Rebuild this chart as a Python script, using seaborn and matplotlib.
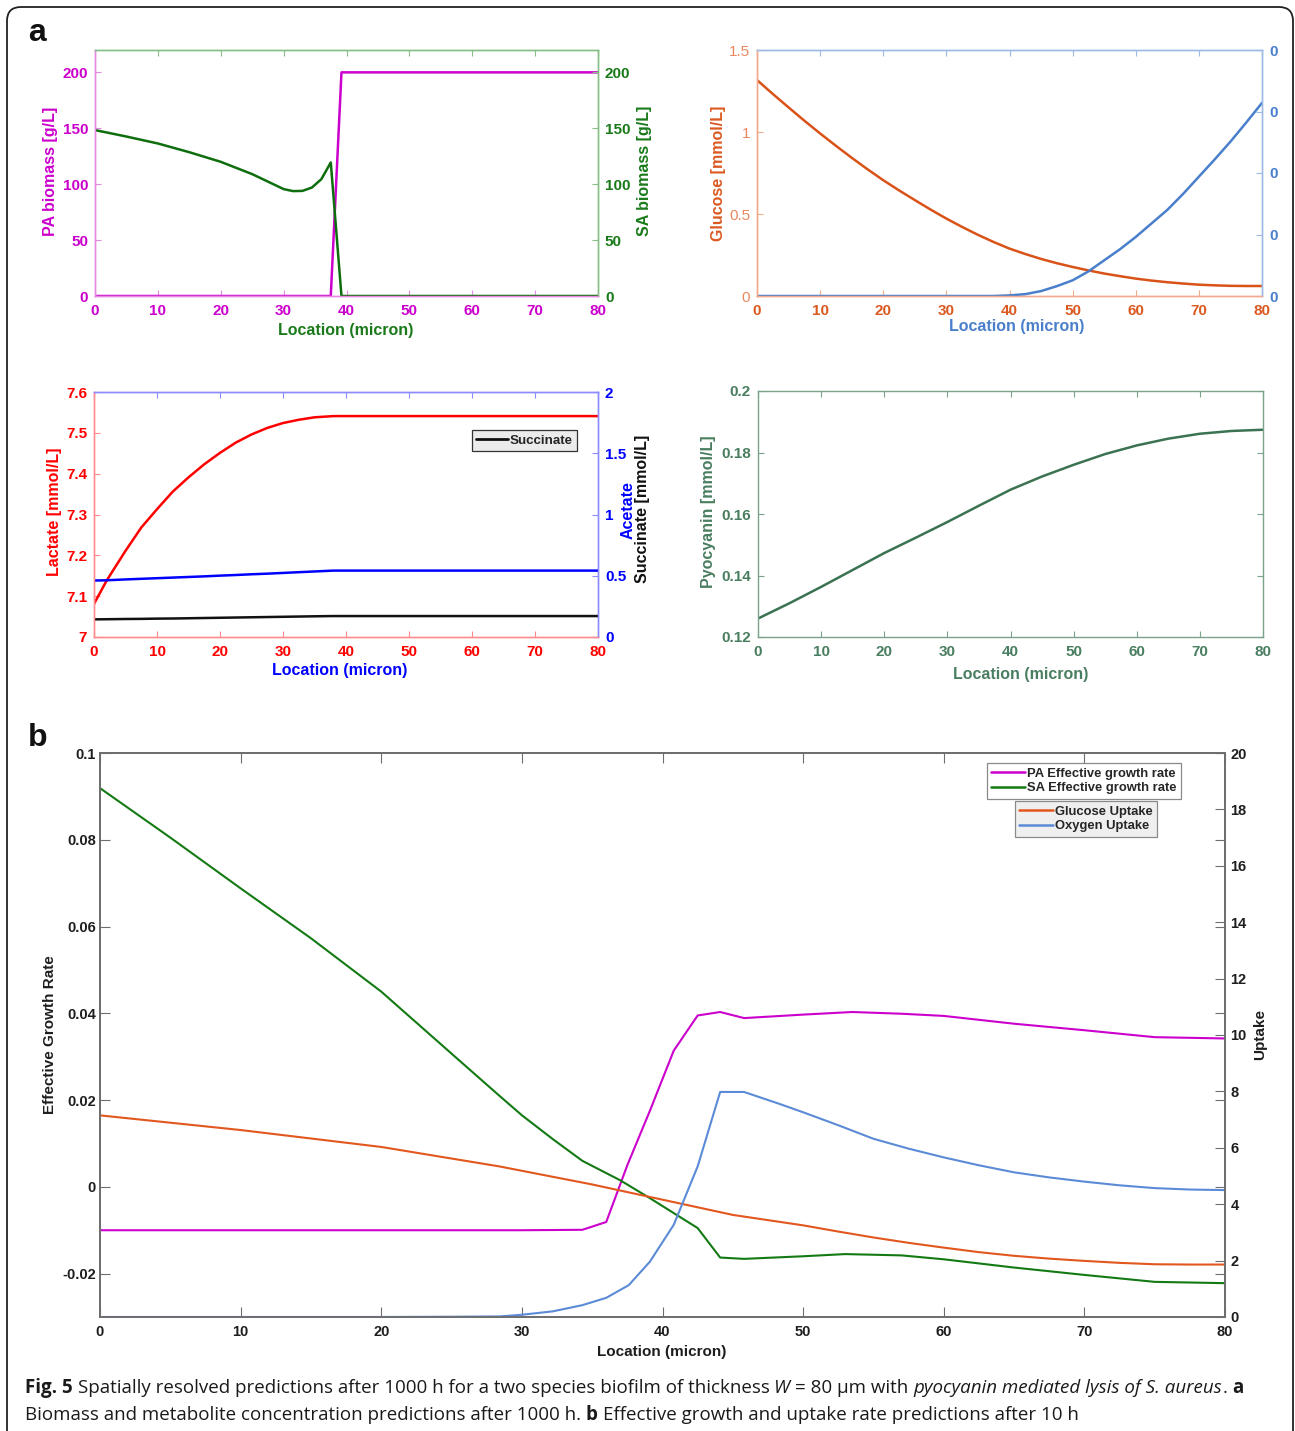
import matplotlib
matplotlib.use("Agg")
import numpy as np
import pandas as pd
import seaborn as sns
import matplotlib.pyplot as plt
from matplotlib.patches import FancyBboxPatch
from matplotlib.lines import Line2D
from matplotlib import font_manager

# ---------------- data ----------------
# Panel a, top-left: biomass
loc_tl = [0, 5, 10, 15, 20, 25, 27.5, 30, 31.5, 33, 34.5, 36, 37.5, 39.2, 45, 50, 60, 70, 80]
pa_biomass = [0, 0, 0, 0, 0, 0, 0, 0, 0, 0, 0, 0, 0, 200, 200, 200, 200, 200, 200]
sa_biomass = [148.4, 142.6, 136.4, 128.6, 120.0, 109.0, 102.3, 95.6, 93.8, 94.0, 97.0, 104.5,
              119.4, 0, 0, 0, 0, 0, 0]
tl_ticks = [0, 50, 100, 150, 200]

# Panel a, top-right: glucose / oxygen
loc_tr = [0, 2.5, 5, 7.5, 10, 12.5, 15, 17.5, 20, 22.5, 25, 27.5, 30, 32.5, 35, 37.5, 40,
          42.5, 45, 47.5, 50, 52.5, 55, 57.5, 60, 62.5, 65, 67.5, 70, 72.5, 75, 77.5, 80]
glucose = [1.317, 1.232, 1.150, 1.069, 0.991, 0.916, 0.843, 0.773, 0.706, 0.644, 0.585,
           0.527, 0.472, 0.421, 0.373, 0.329, 0.289, 0.256, 0.226, 0.200, 0.177, 0.156,
           0.137, 0.121, 0.106, 0.094, 0.084, 0.076, 0.069, 0.065, 0.062, 0.061, 0.061]
oxygen = [0, 0, 0, 0, 0, 0, 0, 0, 0, 0, 0, 0, 0, 0, 0, 0, 0.00001,
          0.00003, 0.00008, 0.00016, 0.000255, 0.00040, 0.00058, 0.00076, 0.00096, 0.00118,
          0.00140, 0.00166, 0.00194, 0.00222, 0.00251, 0.00282, 0.00314]
tr_left_ticks = [0, 0.5, 1, 1.5]
tr_left_labels = ["0", "0.5", "1", "1.5"]
tr_right_ticks = [0, 0.001, 0.002, 0.003, 0.004]
tr_right_labels = ["0", "0", "0", "0", "0"]

# Panel a, middle-left: lactate / acetate / succinate
loc_ml = [0, 2, 5, 7.5, 10, 12.5, 15, 17.5, 20, 22.5, 25, 27.5, 30, 32.5, 35, 38, 40, 50,
          60, 70, 80]
lactate = [7.081, 7.138, 7.211, 7.268, 7.313, 7.356, 7.391, 7.423, 7.451, 7.476, 7.496,
           7.512, 7.524, 7.532, 7.538, 7.541, 7.541, 7.541, 7.541, 7.541, 7.541]
acetate = [0.461, 0.463, 0.470, 0.475, 0.480, 0.485, 0.490, 0.495, 0.501, 0.506, 0.512,
           0.517, 0.523, 0.529, 0.535, 0.542, 0.542, 0.542, 0.542, 0.542, 0.542]
succinate = [0.144, 0.145, 0.147, 0.148, 0.150, 0.151, 0.153, 0.155, 0.157, 0.159, 0.161,
             0.163, 0.165, 0.167, 0.169, 0.171, 0.171, 0.171, 0.171, 0.171, 0.171]
ml_left_ticks = [7, 7.1, 7.2, 7.3, 7.4, 7.5, 7.6]
ml_left_labels = ["7", "7.1", "7.2", "7.3", "7.4", "7.5", "7.6"]
ml_right_ticks = [0, 0.5, 1, 1.5, 2]
ml_right_labels = ["0", "0.5", "1", "1.5", "2"]

# Panel a, middle-right: pyocyanin
loc_mr = [0, 5, 10, 15, 20, 25, 30, 35, 40, 45, 50, 55, 60, 65, 70, 75, 80]
pyocyanin = [0.1260, 0.1310, 0.1363, 0.1418, 0.1473, 0.1523, 0.1574, 0.1627, 0.1679,
             0.1722, 0.1760, 0.1795, 0.1823, 0.1845, 0.1861, 0.1870, 0.1874]
mr_ticks = [0.12, 0.14, 0.16, 0.18, 0.2]
mr_labels = ["0.12", "0.14", "0.16", "0.18", "0.2"]

# Panel b: effective growth rates (left axis) and uptakes (right axis)
loc_pa = [0, 10, 20, 30, 34.3, 36, 37.5, 39.1, 40.8, 42.5, 44.1, 45.8, 50, 53.5, 57, 60,
          65, 70, 75, 80]
pa_rate = [-0.0100, -0.0100, -0.0100, -0.0100, -0.0099, -0.0081, 0.0050, 0.0175, 0.0314,
           0.0395, 0.0403, 0.0389, 0.0397, 0.0403, 0.0399, 0.0394, 0.0376, 0.0361, 0.0345,
           0.0342]
loc_sa = [0, 5, 10, 15, 20, 25, 28.4, 30, 32.2, 34.3, 37, 39.1, 42.5, 44.1, 45.8, 50, 53,
          57, 60, 65, 70, 75, 80]
sa_rate = [0.0919, 0.0805, 0.0688, 0.0573, 0.0450, 0.0307, 0.0210, 0.0165, 0.0110, 0.0060,
           0.0015, -0.0026, -0.0095, -0.0163, -0.0166, -0.0160, -0.0155, -0.0158, -0.0167,
           -0.0186, -0.0203, -0.0219, -0.0222]
loc_gl = [0, 10, 20, 28.4, 35, 40, 45, 50, 52.5, 55, 57.5, 60, 62.5, 65, 67.5, 70, 72.5,
          75, 77.5, 80]
glucose_uptake = [7.15, 6.63, 6.03, 5.34, 4.70, 4.16, 3.62, 3.25, 3.03, 2.82, 2.63, 2.46,
                  2.30, 2.17, 2.07, 1.99, 1.92, 1.87, 1.86, 1.86]
loc_ox = [0, 20, 25, 28.4, 30, 32.2, 34.3, 36, 37.6, 39.1, 40.8, 42.5, 44.1, 45.8, 48.3,
          50, 52.5, 55, 57.5, 60, 62.5, 65, 67.5, 70, 72.5, 75, 77.5, 80]
oxygen_uptake = [0, 0, 0.01, 0.02, 0.08, 0.20, 0.42, 0.68, 1.13, 1.96, 3.27, 5.34, 7.98,
                 7.98, 7.56, 7.26, 6.80, 6.32, 5.97, 5.66, 5.38, 5.13, 4.95, 4.80, 4.67,
                 4.57, 4.52, 4.50]
b_left_ticks = [-0.02, 0, 0.02, 0.04, 0.06, 0.08, 0.1]
b_left_labels = ["-0.02", "0", "0.02", "0.04", "0.06", "0.08", "0.1"]
b_right_ticks = [0, 2, 4, 6, 8, 10, 12, 14, 16, 18, 20]
x_ticks = [0, 10, 20, 30, 40, 50, 60, 70, 80]

# ---------------- style ----------------
sns.set_style("white")
plt.rcParams["font.family"] = ["Liberation Sans", "DejaVu Sans"]
plt.rcParams["font.weight"] = "bold"
plt.rcParams["axes.labelweight"] = "bold"
plt.rcParams["axes.linewidth"] = 1.0

W, H = 1295, 1431
fig = plt.figure(figsize=(W / 100, H / 100), dpi=100)
fig.patch.set_facecolor("white")

bg = fig.add_axes([0, 0, 1, 1])
bg.set_xlim(0, W)
bg.set_ylim(H, 0)
bg.axis("off")
bg.add_patch(FancyBboxPatch((7, 7), 1286, 1460, boxstyle="round,pad=0,rounding_size=14",
                            fill=False, lw=1.3, ec="#222222"))


def axbox(x0, y0, x1, y1):
    return [x0 / W, 1 - y1 / H, (x1 - x0) / W, (y1 - y0) / H]


def pax(box, px, py):
    x0, y0, x1, y1 = box
    return (px - x0) / (x1 - x0), (y1 - py) / (y1 - y0)


def spines(ax, left, right, top, bottom):
    ax.spines["left"].set_color(left)
    ax.spines["right"].set_color(right)
    ax.spines["top"].set_color(top)
    ax.spines["bottom"].set_color(bottom)
    for s in ax.spines.values():
        s.set_linewidth(1.0)
        s.set_visible(True)


def line(ax, x, y, color, lw):
    sns.lineplot(x=x, y=y, ax=ax, color=color, linewidth=lw, sort=False,
                 errorbar=None, legend=False)


def xlab(ax, box, text, px, py, color, size):
    ax.set_xlabel(text, color=color, fontsize=size, fontweight="bold")
    ax.xaxis.set_label_coords(*pax(box, px, py))
    ax.xaxis.label.set_va("center")


def ylab(ax, box, text, px, py, color, size):
    ax.set_ylabel(text, color=color, fontsize=size, fontweight="bold")
    ax.yaxis.set_label_coords(*pax(box, px, py))
    ax.yaxis.label.set_va("center")
    ax.yaxis.label.set_ha("center")


TS = 11     # tick label size panel a
LS = 11.5   # axis label size panel a
TL = 4.5    # tick length panel a

# ---------- Panel a, top-left ----------
MAG = "#CC00CC"; MAG_SP = "#E48AE4"
GRN = "#0E6E0E"; GRN_T = "#1A7A1A"; GRN_SP = "#86BF86"
box = (95, 50, 598, 296)
ax = fig.add_axes(axbox(*box))
ax2 = ax.twinx()
line(ax, loc_tl, pa_biomass, MAG, 1.8)
line(ax2, loc_tl, sa_biomass, GRN, 1.8)
for a in (ax, ax2):
    a.set_xlim(0, 80)
    a.set_ylim(0, 220)
    a.set_yticks(tl_ticks)
    a.set_yticklabels([str(v) for v in tl_ticks])
    a.set_xticks(x_ticks)
ax.set_xticklabels([str(v) for v in x_ticks])
ax.tick_params(axis="x", direction="in", length=TL, color=MAG_SP, labelcolor=MAG,
               labelsize=TS, pad=6, bottom=True, top=False)
ax.tick_params(axis="y", direction="in", length=TL, color=MAG_SP, labelcolor=MAG,
               labelsize=TS, pad=5, left=True, right=False)
ax2.tick_params(axis="y", direction="in", length=TL, color=GRN_SP, labelcolor=GRN_T,
                labelsize=TS, pad=5, right=True, left=False)
ax2.xaxis.set_visible(True)
ax2.tick_params(axis="x", direction="in", length=TL, color=GRN_SP, bottom=False, top=True,
                labelbottom=False, labeltop=False)
for a in (ax, ax2):
    spines(a, MAG_SP, GRN_SP, GRN_SP, MAG_SP)
xlab(ax, box, "Location (micron)", 346, 331, GRN_T, LS)
ylab(ax, box, "PA biomass [g/L]", 50, 171, MAG, LS)
ylab(ax2, box, "SA biomass [g/L]", 645, 171, GRN_T, LS)

# ---------- Panel a, top-right ----------
ORG = "#D95319"; ORG_T = "#DB5A22"; ORG_L = "#E8875F"; ORG_SP = "#F2AA8C"
BLU = "#4A7FCB"; BLU_SP = "#9DBAE6"
box = (757, 50, 1262, 296)
ax = fig.add_axes(axbox(*box))
ax2 = ax.twinx()
line(ax, loc_tr, glucose, ORG, 1.8)
line(ax2, loc_tr, oxygen, BLU, 1.8)
ax.set_xlim(0, 80)
ax.set_ylim(0, 1.5)
ax.set_yticks(tr_left_ticks)
ax.set_yticklabels(tr_left_labels, fontweight="normal")
ax.set_xticks(x_ticks)
ax.set_xticklabels([str(v) for v in x_ticks])
ax2.set_ylim(0, 0.004)
ax2.set_yticks(tr_right_ticks)
ax2.set_yticklabels(tr_right_labels)
ax.tick_params(axis="x", direction="in", length=TL, color=ORG_SP, labelcolor=ORG_T,
               labelsize=TS, pad=6, bottom=True, top=False)
ax.tick_params(axis="y", direction="in", length=TL, color=ORG_SP, labelcolor=ORG_L,
               labelsize=TS, pad=5, left=True, right=False)
ax2.tick_params(axis="y", direction="in", length=TL, color=BLU_SP, labelcolor=BLU,
                labelsize=TS, pad=5, right=True, left=False)
ax2.xaxis.set_visible(True)
ax2.tick_params(axis="x", direction="in", length=TL, color=BLU_SP, bottom=False, top=True,
                labelbottom=False, labeltop=False)
for a in (ax, ax2):
    spines(a, ORG_SP, BLU_SP, BLU_SP, ORG_SP)
xlab(ax, box, "Location (micron)", 1017, 327, BLU, LS)
ylab(ax, box, "Glucose [mmol/L]", 718, 173, ORG_T, LS)

# ---------- Panel a, middle-left ----------
RED = "#FF0000"; RED_SP = "#FF8C8C"
BLUE = "#0000FF"; BLUE_SP = "#8C8CFF"
box = (94, 392, 598, 637)
ax = fig.add_axes(axbox(*box))
ax2 = ax.twinx()
line(ax, loc_ml, lactate, RED, 1.8)
line(ax2, loc_ml, acetate, BLUE, 1.8)
line(ax2, loc_ml, succinate, "#111111", 1.8)
ax.set_xlim(0, 80)
ax.set_ylim(7, 7.6)
ax.set_yticks(ml_left_ticks)
ax.set_yticklabels(ml_left_labels)
ax.set_xticks(x_ticks)
ax.set_xticklabels([str(v) for v in x_ticks])
ax2.set_ylim(0, 2)
ax2.set_yticks(ml_right_ticks)
ax2.set_yticklabels(ml_right_labels)
ax.tick_params(axis="x", direction="in", length=TL, color=RED_SP, labelcolor=RED,
               labelsize=TS, pad=6, bottom=True, top=False)
ax.tick_params(axis="y", direction="in", length=TL, color=RED_SP, labelcolor=RED,
               labelsize=TS, pad=5, left=True, right=False)
ax2.tick_params(axis="y", direction="in", length=TL, color=BLUE_SP, labelcolor=BLUE,
                labelsize=TS, pad=5, right=True, left=False)
ax2.xaxis.set_visible(True)
ax2.tick_params(axis="x", direction="in", length=TL, color=BLUE_SP, bottom=False, top=True,
                labelbottom=False, labeltop=False)
for a in (ax, ax2):
    spines(a, RED_SP, BLUE_SP, BLUE_SP, RED_SP)
xlab(ax, box, "Location (micron)", 340, 670, BLUE, LS)
ylab(ax, box, "Lactate [mmol/L]", 55, 512, RED, LS)
bg.text(628, 510, "Acetate", rotation=90, color=BLUE, fontsize=LS, fontweight="bold",
        ha="center", va="center")
bg.text(643, 509, "Succinate [mmol/L]", rotation=90, color="#111111", fontsize=LS,
        fontweight="bold", ha="center", va="center")
leg = ax2.legend(handles=[Line2D([], [], color="#111111", lw=2.0)], labels=["Succinate"],
                 loc="center", bbox_to_anchor=pax(box, 524.5, 440.5), fontsize=9.6,
                 frameon=True, fancybox=False, framealpha=1, borderpad=0.35,
                 handlelength=2.4, handletextpad=0.1, borderaxespad=0)
leg.get_frame().set_facecolor("#EBEBEB")
leg.get_frame().set_edgecolor("#333333")
leg.get_frame().set_linewidth(0.9)

# ---------- Panel a, middle-right ----------
PYO = "#3B7352"; PYO_T = "#4A7E60"; PYO_SP = "#7AA38A"
box = (758, 391, 1263, 637)
ax = fig.add_axes(axbox(*box))
line(ax, loc_mr, pyocyanin, PYO, 1.8)
ax.set_xlim(0, 80)
ax.set_ylim(0.12, 0.2)
ax.set_yticks(mr_ticks)
ax.set_yticklabels(mr_labels)
ax.set_xticks(x_ticks)
ax.set_xticklabels([str(v) for v in x_ticks])
ax.tick_params(axis="both", direction="in", length=TL, color=PYO_SP, labelcolor=PYO_T,
               labelsize=TS, bottom=True, top=True, left=True, right=True)
ax.tick_params(axis="x", pad=6)
ax.tick_params(axis="y", pad=5)
spines(ax, PYO_SP, PYO_SP, PYO_SP, PYO_SP)
xlab(ax, box, "Location (micron)", 1021, 674, PYO_T, LS)
ylab(ax, box, "Pyocyanin [mmol/L]", 709, 512, PYO_T, LS)

# ---------- Panel b ----------
B_MAG = "#CC00CC"; B_GRN = "#137A13"; B_ORG = "#E2571E"; B_BLU = "#5B8BD6"
B_SP = "#6E6E6E"; B_T = "#1E1E1E"
box = (100, 753, 1225, 1317)
ax = fig.add_axes(axbox(*box))
ax2 = ax.twinx()
line(ax, loc_pa, pa_rate, B_MAG, 1.5)
line(ax, loc_sa, sa_rate, B_GRN, 1.5)
line(ax2, loc_gl, glucose_uptake, B_ORG, 1.5)
line(ax2, loc_ox, oxygen_uptake, B_BLU, 1.5)
ax.set_xlim(0, 80)
ax.set_ylim(-0.03, 0.1)
ax.set_yticks(b_left_ticks)
ax.set_yticklabels(b_left_labels)
ax.set_xticks(x_ticks)
ax.set_xticklabels([str(v) for v in x_ticks])
ax2.set_ylim(0, 20)
ax2.set_yticks(b_right_ticks)
ax2.set_yticklabels([str(v) for v in b_right_ticks])
ax.tick_params(axis="x", direction="in", length=7, color=B_SP, labelcolor=B_T,
               labelsize=10.5, pad=6, bottom=True, top=True)
ax.tick_params(axis="y", direction="in", length=7, color=B_SP, labelcolor=B_T,
               labelsize=10.5, pad=3, left=True, right=True)
ax2.tick_params(axis="y", direction="in", length=7, color=B_SP, labelcolor=B_T,
                labelsize=10.5, pad=4, right=True, left=False)
for a in (ax, ax2):
    spines(a, B_SP, B_SP, B_SP, B_SP)
    for s in a.spines.values():
        s.set_linewidth(1.3)
xlab(ax, box, "Location (micron)", 662, 1352, B_T, 11)
ylab(ax, box, "Effective Growth Rate", 50, 1035, B_T, 11)
ylab(ax2, box, "Uptake", 1260, 1035, B_T, 11)

leg_kw = dict(loc="center", fontsize=9.4, frameon=True, fancybox=False, framealpha=1,
              borderpad=0.32, labelspacing=0.2, handlelength=2.6, handletextpad=0.15,
              borderaxespad=0)
leg1 = ax2.legend(handles=[Line2D([], [], color=B_MAG, lw=1.8), Line2D([], [], color=B_GRN, lw=1.8)],
                  labels=["PA Effective growth rate", "SA Effective growth rate"],
                  bbox_to_anchor=pax(box, 1084, 781), **leg_kw)
leg1.get_frame().set_edgecolor("#8A8A8A")
leg1.get_frame().set_linewidth(0.9)
ax2.add_artist(leg1)
leg2 = ax2.legend(handles=[Line2D([], [], color=B_ORG, lw=1.8), Line2D([], [], color=B_BLU, lw=1.8)],
                  labels=["Glucose Uptake", "Oxygen Uptake"],
                  bbox_to_anchor=pax(box, 1086, 819), **leg_kw)
leg2.get_frame().set_facecolor("#EFEFEF")
leg2.get_frame().set_edgecolor("#8A8A8A")
leg2.get_frame().set_linewidth(0.9)

# ---------- panel letters ----------
bg.text(37, 33, "a", fontsize=23, fontweight="bold", ha="center", va="center", color="#111111")
bg.text(38, 738, "b", fontsize=23, fontweight="bold", ha="center", va="center", color="#111111")

# ---------- caption ----------
names = {f.name for f in font_manager.fontManager.ttflist}
cap_font = ["Liberation Sans Narrow", "DejaVu Sans"] if "Liberation Sans Narrow" in names \
    else ["Open Sans", "DejaVu Sans"]
renderer = fig.canvas.get_renderer()

cap_line1 = [("Fig. 5", "bold", "normal"),
             (" Spatially resolved predictions after 1000 h for a two species biofilm of thickness ", "normal", "normal"),
             ("W", "normal", "italic"),
             (" = 80 μm with ", "normal", "normal"),
             ("pyocyanin mediated lysis of S. aureus", "normal", "italic"),
             (". ", "normal", "normal"),
             ("a", "bold", "normal")]
cap_line2 = [("Biomass and metabolite concentration predictions after 1000 h. ", "normal", "normal"),
             ("b", "bold", "normal"),
             (" Effective growth and uptake rate predictions after 10 h", "normal", "normal")]


def measure(text, weight, style, size):
    t = bg.text(0, 0, text, fontsize=size, fontweight=weight, fontstyle=style, family=cap_font)
    w = t.get_window_extent(renderer).width
    t.remove()
    return w


def rich(pieces, x, y, size, draw):
    sp = measure("x x", "normal", "normal", size) - measure("xx", "normal", "normal", size)
    cur = x
    for txt, wgt, sty in pieces:
        lead = len(txt) - len(txt.lstrip(" "))
        trail = len(txt) - len(txt.rstrip(" "))
        core = txt.strip(" ")
        cur += lead * sp
        if core:
            if draw:
                bg.text(cur, y, core, fontsize=size, fontweight=wgt, fontstyle=sty,
                        family=cap_font, ha="left", va="center", color="#1a1a1a")
            cur += measure(core, wgt, sty, size)
        cur += trail * sp
    return cur - x


s0 = 12.0
w0 = rich(cap_line1, 25, 1388, s0, False)
cap_size = s0 * 1218.0 / w0
rich(cap_line1, 25, 1388, cap_size, True)
rich(cap_line2, 25, 1415, cap_size, True)

fig.savefig("out.png", dpi=100, facecolor="white")
